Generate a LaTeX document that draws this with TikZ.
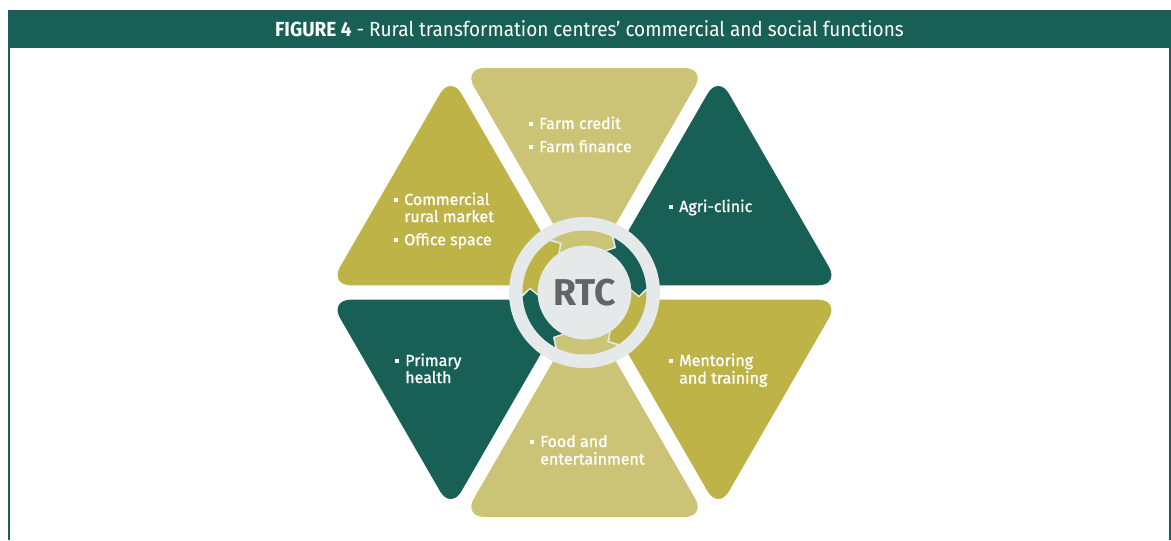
\documentclass[tikz,border=0pt]{standalone}
\usepackage{fontspec}
\setmainfont{Fira Sans}
\newfontfamily\titrefont[FakeStretch=0.93]{Fira Sans}
\newfontfamily\textefont[FakeBold=1.2]{Fira Sans}
\usetikzlibrary{calc}
\definecolor{vertfonce}{HTML}{185F55}
\definecolor{oliveRTC}{HTML}{BDB347}
\definecolor{olivepale}{HTML}{CBC476}
\definecolor{grisclair}{HTML}{E5E9EA}
\definecolor{gristexte}{HTML}{636466}
\newcommand\puce{\rule[0.2em]{0.25em}{0.25em}}
\tikzset{
  etiquette/.style={anchor=base west, inner sep=0pt, text=white,
    font=\textefont\fontsize{12}{12.6}\selectfont, align=left},
}
\begin{document}
\begin{tikzpicture}[x=0.75pt,y=0.75pt]
    \def \R{259.2}; % rayon de l'hexagone
    \def \d{7.2}; % demi-espace entre les triangles
    \def \s{8.3};
    \useasboundingbox (0,0) rectangle (1171,540);
    % bandeau du titre et cadre
    \fill[vertfonce] (8,492) rectangle (1171,530);
    \node[text=white, font=\titrefont\fontsize{15.3}{17}\selectfont] (titre) at (589.5,511)
        {\textbf{FIGURE 4} - Rural transformation centres’ commercial and social functions};
    \draw[vertfonce, line width=1.5pt] (9,492) -- (9,0) (1169.5,492) -- (1169.5,0);
    \coordinate (O) at (584.5,247.5);
    % les six triangles
    \foreach \m/\couleur in {90/olivepale, 150/oliveRTC, 210/vertfonce, 270/olivepale, 330/oliveRTC, 30/vertfonce}
    \fill[\couleur, rounded corners=16pt] ($(O)+(\m:{2*\d})$)
        -- ($(O)+(\m:{\R*cos(30)})+(\m-90:{\R/2-\s})$)
        -- ($(O)+(\m:{\R*cos(30)})+(\m+90:{\R/2-\s})$) -- cycle;
    % disque central et fleches circulaires
    \fill[grisclair] (O) circle[radius=75.5];
    \foreach \m/\couleur in {90/olivepale, 150/oliveRTC, 210/vertfonce, 270/olivepale, 330/oliveRTC, 30/vertfonce}
    \fill[\couleur, shift={(O)}] ({\m+31.5}:62) arc[start angle=\m+31.5, end angle=\m-26, radius=62]
        -- ({\m-33}:54.5) -- ({\m-26}:47) arc[start angle=\m-26, end angle=\m+31.5, radius=47]
        -- ({\m+24.5}:54.5) -- cycle;
    \node[text=gristexte, font=\bfseries\fontsize{28}{30}\selectfont] (rtc) at (O) {RTC};
    % textes
    \node[etiquette] (credit) at (529,411) {\begin{tabular}[t]{@{}l@{\hspace{4.5pt}}l@{}}
        \puce & Farm credit\\[4.6pt] \puce & Farm finance\end{tabular}};
    \node[etiquette] (marche) at (394,335) {\begin{tabular}[t]{@{}l@{\hspace{4.5pt}}l@{}}
        \puce & Commercial\\ & rural market\\[4.6pt] \puce & Office space\end{tabular}};
    \node[etiquette] (clinique) at (669,328) {\begin{tabular}[t]{@{}l@{\hspace{4.5pt}}l@{}}
        \puce & Agri-clinic\end{tabular}};
    \node[etiquette] (sante) at (395,174) {\begin{tabular}[t]{@{}l@{\hspace{4.5pt}}l@{}}
        \puce & Primary\\ & health\end{tabular}};
    \node[etiquette] (formation) at (669,174) {\begin{tabular}[t]{@{}l@{\hspace{4.5pt}}l@{}}
        \puce & Mentoring\\ & and training\end{tabular}};
    \node[etiquette] (loisirs) at (530,93) {\begin{tabular}[t]{@{}l@{\hspace{4.5pt}}l@{}}
        \puce & Food and\\ & entertainment\end{tabular}};
\end{tikzpicture}
\end{document}
